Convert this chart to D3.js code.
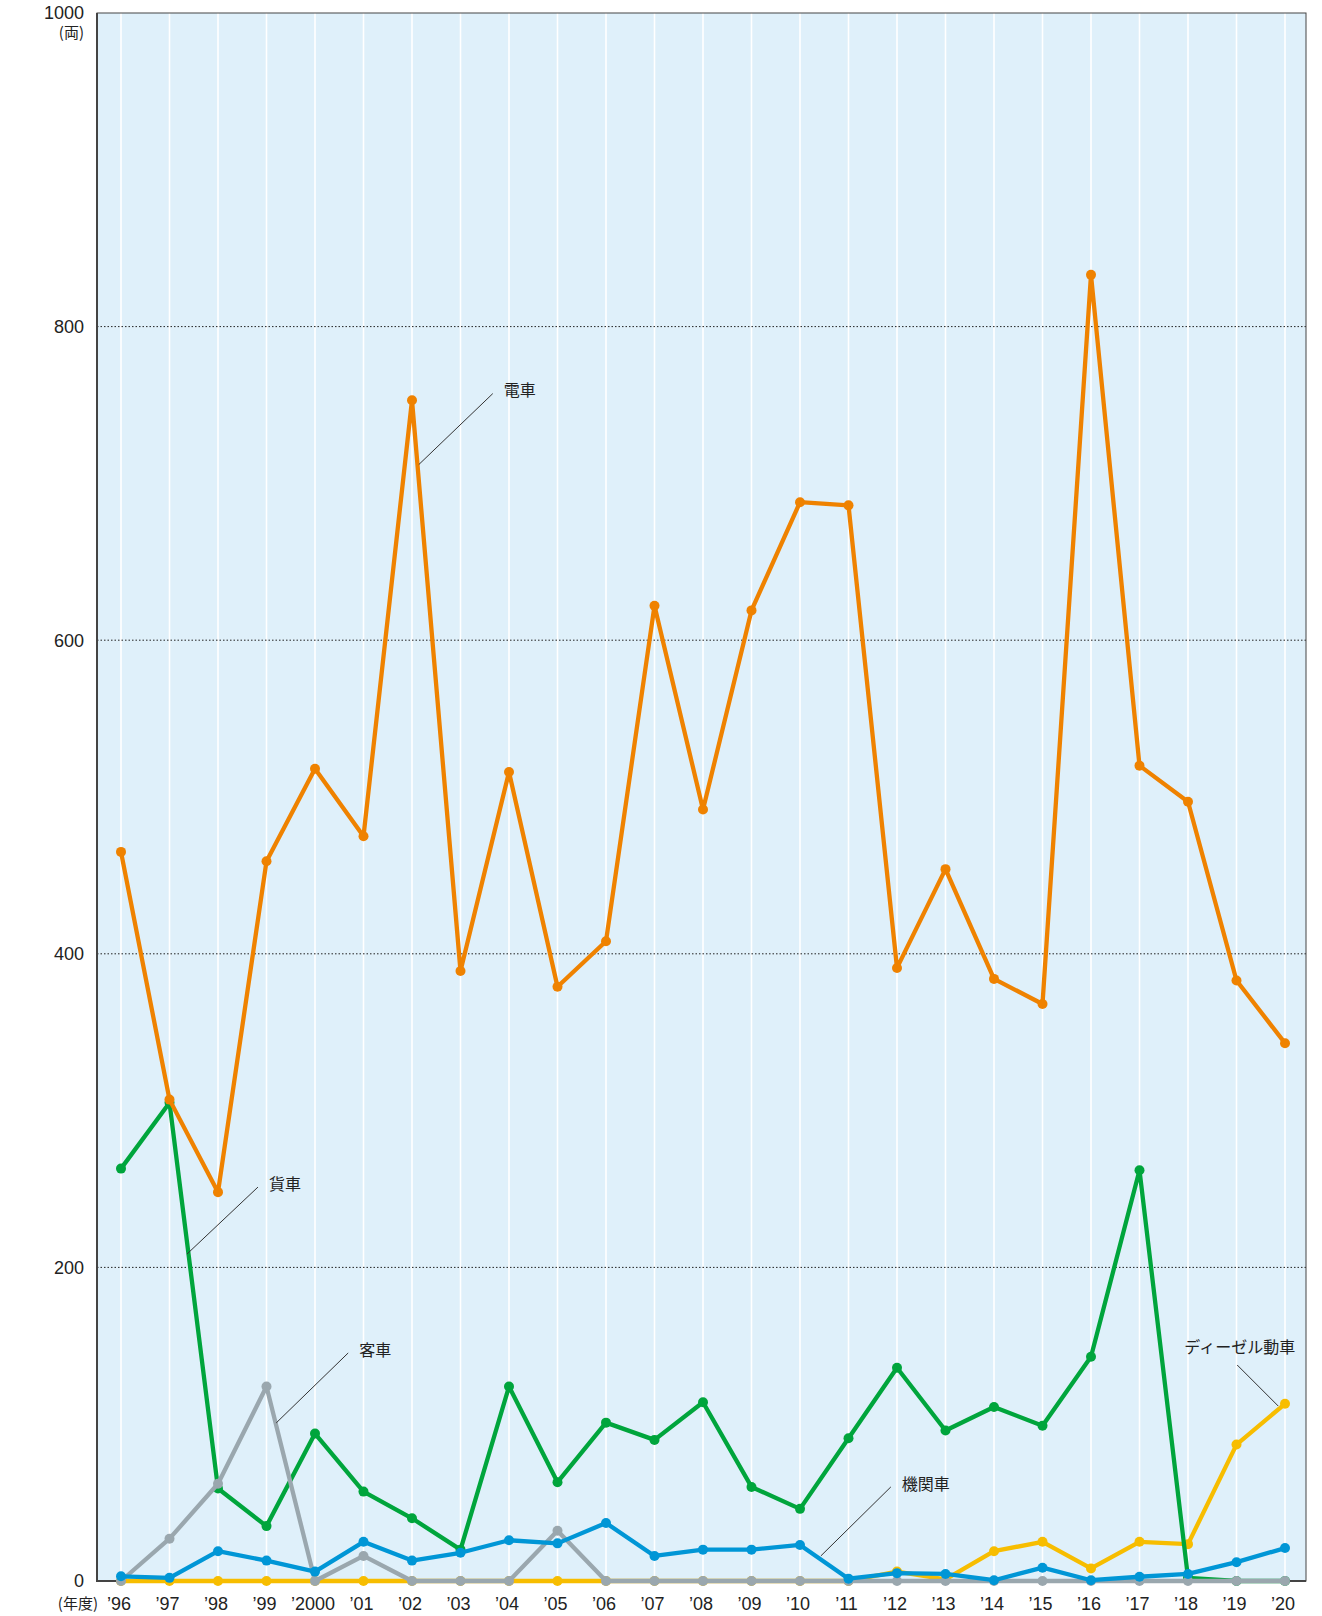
<!DOCTYPE html>
<html>
<head>
<meta charset="utf-8">
<script src="https://cdn.jsdelivr.net/npm/d3@7"></script>
<style>
  body { margin: 0; background: #fff; }
  text { font-family: "Liberation Sans", Arial, sans-serif; fill: #222; }
  .jp { font-family: "Noto Sans CJK JP", sans-serif; }
</style>
</head>
<body>
<div id="chart"></div>
<script>

// year labels
var years = ["’96","’97","’98","’99","’2000","’01","’02","’03","’04","’05","’06","’07","’08",
  "’09","’10","’11","’12","’13","’14","’15","’16","’17","’18","’19","’20"];

// values per series (両)
var densha  = [465,307,248,459,518,475,753,389,516,379,408,622,492,619,688,686,391,454,384,368,833,520,497,383,343];
var kasha   = [263,305,59,35,94,57,40,20,124,63,101,90,114,60,46,91,136,96,111,99,143,262,2,0,0];
var kikansha= [3,2,19,13,6,25,13,18,26,24,37,16,20,20,23,1.5,5,4.5,0.5,8.5,0.5,2.7,4.5,12,21];
var diesel  = [0,0,0,0,0,0,0,0,0,0,0,0,0,0,0,0,6,1,19,25,8,25,23.5,87,113];
var kyakusha= [0,27,62,124,0,16,0,0,0,32,0,0,0,0,0,0,0,0,0,0,0,0,0,0,0];

var yTicks = [0,200,400,600,800,1000];

// drawing order: bottom first
var series = [
  {name: "ディーゼル動車", values: diesel,   color: "#f7bd00"},
  {name: "貨車",         values: kasha,    color: "#00a53c"},
  {name: "客車",         values: kyakusha, color: "#9aa7ae"},
  {name: "機関車",       values: kikansha, color: "#0096d6"},
  {name: "電車",         values: densha,   color: "#ef8200"}
];

// leader labels: anchor in data space, end offset in px
var notes = [
  {label: "電車",         i: 6.14,  v: 712,   dx: 74, dy: -71, anchor: "start"},
  {label: "貨車",         i: 1.36,  v: 208.5, dx: 71, dy: -67, anchor: "start"},
  {label: "客車",         i: 3.2,   v: 100.8, dx: 72, dy: -70, anchor: "start"},
  {label: "機関車",       i: 14.43, v: 16,    dx: 70, dy: -69, anchor: "start"},
  {label: "ディーゼル動車", i: 23.86, v: 111.6, dx: -41, dy: -41, anchor: "end"}
];

var W = 1322, H = 1616;
var margin = {top: 13, right: 16, bottom: 35, left: 97},
  width = W - margin.left - margin.right,
  height = H - margin.top - margin.bottom;

var svg = d3.select("#chart")
.append("svg")
  .attr("width", W)
  .attr("height", H)
.append("g")
  .attr("transform", "translate(" + margin.left + "," + margin.top + ")");

var x = d3.scalePoint()
  .domain(d3.range(years.length))
  .range([24, width - 21]);

var y = d3.scaleLinear()
  .domain([0, 1000])
  .range([height, 0]);

// plot background
svg.append("rect")
  .attr("width", width)
  .attr("height", height)
  .style("fill", "#dff0fa");

// vertical white grid
svg.selectAll(".vgrid")
  .data(d3.range(years.length))
  .enter()
  .append("line")
    .attr("x1", d => x(d)).attr("x2", d => x(d))
    .attr("y1", 0).attr("y2", height)
    .style("stroke", "#fff")
    .style("stroke-width", 1.6);

// horizontal dotted grid
svg.selectAll(".hgrid")
  .data(yTicks.filter(d => d > 0 && d < 1000))
  .enter()
  .append("line")
    .attr("x1", 0).attr("x2", width)
    .attr("y1", d => y(d)).attr("y2", d => y(d))
    .style("stroke", "#222")
    .style("stroke-width", 1)
    .style("stroke-dasharray", "1.5,2");

// border
svg.append("rect")
  .attr("width", width)
  .attr("height", height)
  .style("fill", "none")
  .style("stroke", "#444")
  .style("stroke-width", 1);
svg.append("path")
  .attr("d", "M0,0V" + height + "H" + width)
  .style("fill", "none")
  .style("stroke", "#444")
  .style("stroke-width", 2);

// y axis labels
svg.selectAll(".ylab")
  .data(yTicks)
  .enter()
  .append("text")
    .attr("x", -13)
    .attr("y", d => y(d))
    .attr("dy", "0.35em")
    .attr("text-anchor", "end")
    .style("font-size", "18px")
    .text(d => d);

svg.append("text")
  .attr("class", "jp")
  .attr("x", -13)
  .attr("y", 20)
  .attr("dy", "0.35em")
  .attr("text-anchor", "end")
  .style("font-size", "15px")
  .text("(両)");

// x axis labels
svg.selectAll(".xlab")
  .data(years)
  .enter()
  .append("text")
    .attr("x", (d, i) => x(i) - 2)
    .attr("y", height + 23)
    .attr("dy", "0.35em")
    .attr("text-anchor", "middle")
    .style("font-size", "18px")
    .text(d => d);

svg.append("text")
  .attr("class", "jp")
  .attr("x", 1)
  .attr("y", height + 23)
  .attr("dy", "0.35em")
  .attr("text-anchor", "end")
  .style("font-size", "15px")
  .text("(年度)");

// lines and dots
var line = d3.line()
  .x((d, i) => x(i))
  .y(d => y(d));

series.forEach(function(s) {
  svg.append("path")
    .datum(s.values)
    .attr("d", line)
    .style("fill", "none")
    .style("stroke", s.color)
    .style("stroke-width", 4.3)
    .style("stroke-linejoin", "round");

  svg.selectAll(null)
    .data(s.values)
    .enter()
    .append("circle")
      .attr("cx", (d, i) => x(i))
      .attr("cy", d => y(d))
      .attr("r", 5)
      .style("fill", s.color);
});

// leader lines + labels
notes.forEach(function(n) {
  var ax = x(0) + n.i * x.step(), ay = y(n.v);
  svg.append("line")
    .attr("x1", ax).attr("y1", ay)
    .attr("x2", ax + n.dx).attr("y2", ay + n.dy)
    .style("stroke", "#333")
    .style("stroke-width", 1);
  svg.append("text")
    .attr("class", "jp")
    .attr("x", n.anchor == "start" ? ax + n.dx + 11 : ax + n.dx + 58)
    .attr("y", n.anchor == "start" ? ay + n.dy - 3 : ay + n.dy - 18)
    .attr("dy", "0.35em")
    .attr("text-anchor", n.anchor)
    .style("font-size", "16px")
    .text(n.label);
});

</script>
</body>
</html>
